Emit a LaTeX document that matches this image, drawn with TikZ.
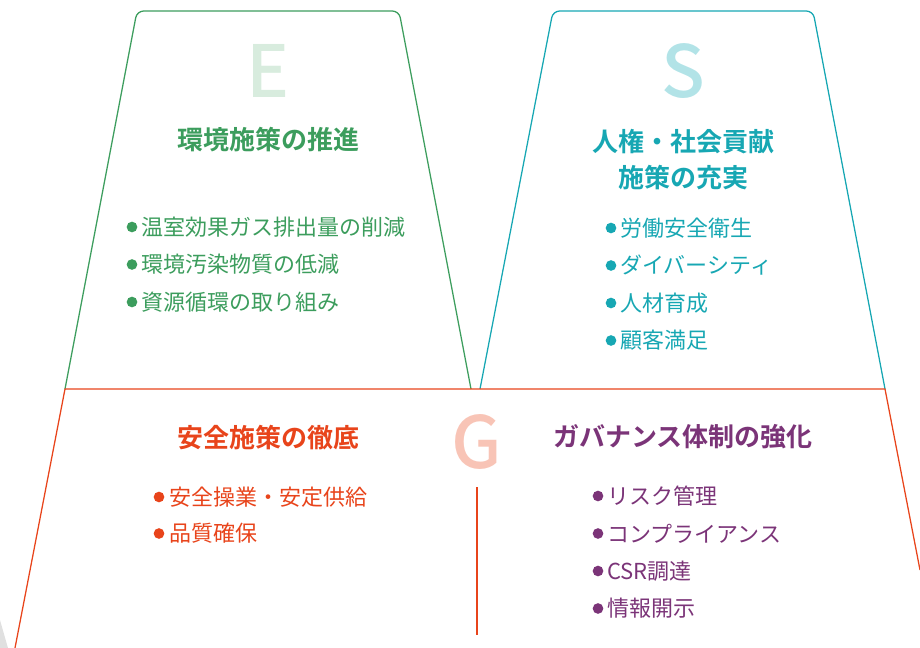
\documentclass[tikz,border=0pt]{standalone}
\usepackage{fontspec}
\setmainfont{Noto Sans CJK JP}
\newfontfamily\jpb{Noto Sans CJK JP Bold}
\newfontfamily\jpm{Noto Sans CJK JP Medium}
\definecolor{egreen}{HTML}{3C9D5D}
\definecolor{eletter}{HTML}{D8ECDE}
\definecolor{steal}{HTML}{17A7B3}
\definecolor{sletter}{HTML}{B2E3E7}
\definecolor{gorange}{HTML}{E8441B}
\definecolor{gletter}{HTML}{F8C4B6}
\definecolor{gpurple}{HTML}{7B3478}
\tikzset{
  frame/.style={line width=0.95pt, line join=round},
  bigletter/.style={font=\jpm\fontsize{54}{54}\selectfont, inner sep=0pt},
  heading/.style={font=\jpb\fontsize{19.5}{27}\selectfont, inner sep=0pt, align=center},
  item/.style={font=\fontsize{16.5}{20}\selectfont, anchor=west, inner sep=0pt},
  dot/.style={circle, inner sep=0pt, minimum size=8pt}
}
\begin{document}
\begin{tikzpicture}[x=0.75pt, y=-0.75pt]
\useasboundingbox (0,0) rectangle (920,648);
\fill[black!12] (0,620) -- (8,648) -- (0,648) -- cycle;
% E trapezoid
\draw[frame, egreen, rounded corners=5pt] (65,389) -- (137,11) -- (399,11) -- (471,389);
% S trapezoid
\draw[frame, steal, rounded corners=5pt] (480,389) -- (553,11) -- (813,11) -- (885,389);
% G trapezoid
\draw[frame, gorange] (15,648) -- (65,389) -- (885,389) -- (920,570);
\coordinate (vt) at (477,487);
\coordinate (vb) at (477,635);
\draw[frame, gorange] (vt) -- (vb);
% letters
\node[bigletter, text=eletter] (E) at (268,71) {E};
\node[bigletter, text=sletter] (S) at (683,71) {S};
\node[bigletter, text=gletter] (G) at (477,442) {G};
% headings
\node[heading, text=egreen] (he) at (268,140) {環境施策の推進};
\node[heading, text=steal] (hs) at (683,160) {人権・社会貢献\\施策の充実};
\node[heading, text=gorange] (hg1) at (268,438) {安全施策の徹底};
\node[heading, text=gpurple] (hg2) at (683,437) {ガバナンス体制の強化};
% E items
\foreach \t [count=\i] in {温室効果ガス排出量の削減,環境汚染物質の低減,資源循環の取り組み}{
  \node[dot, fill=egreen] (ed\i) at (132,{227+(\i-1)*37.5}) {};
  \node[item, text=egreen] (et\i) at (141,{227+(\i-1)*37.5}) {\t};
}
% S items
\foreach \t [count=\i] in {労働安全衛生,ダイバーシティ,人材育成,顧客満足}{
  \node[dot, fill=steal] (sd\i) at (611,{228+(\i-1)*37.5}) {};
  \node[item, text=steal] (st\i) at (620,{228+(\i-1)*37.5}) {\t};
}
% G left items
\foreach \t [count=\i] in {安全操業・安定供給,品質確保}{
  \node[dot, fill=gorange] (gd\i) at (159,{497+(\i-1)*36.5}) {};
  \node[item, text=gorange] (gt\i) at (169,{497+(\i-1)*36.5}) {\t};
}
% G right items
\foreach \t [count=\i] in {リスク管理,コンプライアンス,CSR調達,情報開示}{
  \node[dot, fill=gpurple] (pd\i) at (598,{496+(\i-1)*37.5}) {};
  \node[item, text=gpurple] (pt\i) at (607,{496+(\i-1)*37.5}) {\t};
}
\end{tikzpicture}
\end{document}
